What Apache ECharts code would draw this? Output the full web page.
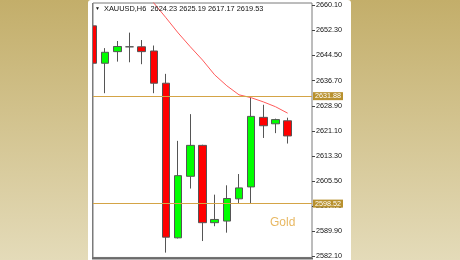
<!DOCTYPE html>
<html><head><meta charset="utf-8">
<script src="https://cdn.jsdelivr.net/npm/echarts@6/dist/echarts.min.js"></script>
<style>html,body{margin:0;padding:0;}#c{width:460px;height:260px;}</style>
</head><body><div id="c"></div>
<script>
// ---- data ----
const categories = ['1','2','3','4','5','6','7','8','9','10','11','12','13','14','15','16','17','18','19'];
const opens  = [2653.7, 2642.1, 2645.7, 2647.2, 2647.2, 2645.9, 2635.9, 2587.9, 2607.0, 2616.6, 2592.6, 2593.1, 2600.0, 2603.7, 2625.3, 2623.3, 2624.23];
const closes = [2642.1, 2645.5, 2647.3, 2647.2, 2645.7, 2635.9, 2588.1, 2607.2, 2616.6, 2592.6, 2593.6, 2600.1, 2603.4, 2625.6, 2622.7, 2624.6, 2619.53];
const lows   = [2636.0, 2632.8, 2642.6, 2642.4, 2641.8, 2632.8, 2583.3, 2587.7, 2603.2, 2586.9, 2591.5, 2589.5, 2598.7, 2598.5, 2618.9, 2620.4, 2617.17];
const highs  = [2657.1, 2646.8, 2649.0, 2651.6, 2649.3, 2647.6, 2638.8, 2618.0, 2626.3, 2616.8, 2601.3, 2604.2, 2607.7, 2631.8, 2629.2, 2624.9, 2625.19];
const maValues = [null, null, null, null, 2665.5, 2660.8, 2656.2, 2651.5, 2647.2, 2643.1, 2638.5, 2635.1, 2632.3, 2631.4, 2630.1, 2628.6, 2626.6];
const yTicks = [2582.10, 2589.90, 2597.70, 2605.50, 2613.30, 2621.10, 2628.90, 2636.70, 2644.50, 2652.30, 2660.10];
const levelLines = [2631.88, 2598.52];
const lastPrice = 2619.53;
const headerText = 'XAUUSD,H6  2624.23 2625.19 2617.17 2619.53';
const watermark = 'Gold';

// ---- build ----
const candleData = opens.map((o, i) => [o, closes[i], lows[i], highs[i]]);
const FONT = '"Liberation Sans", Arial, sans-serif';

const chart = echarts.init(document.getElementById('c'), null, {renderer: 'canvas'});
chart.setOption({
  animation: false,
  backgroundColor: {
    type: 'linear', x: 0, y: 0, x2: 0, y2: 1,
    colorStops: [{offset: 0, color: '#c3ae6a'}, {offset: 1, color: '#e4dbb9'}]
  },
  graphic: [
    {type: 'rect', z: -10, shape: {x: 88, y: 0, width: 263, height: 262, r: [3, 3, 0, 0]}, style: {fill: '#ffffff'}, silent: true},
    {type: 'rect', z: 100, shape: {x: 88, y: 3, width: 4.5, height: 256}, style: {fill: '#ffffff'}, silent: true},
    {type: 'line', z: 101, shape: {x1: 92.5, y1: 3, x2: 92.5, y2: 259}, style: {stroke: '#7a7a7a', lineWidth: 1}, silent: true},
    {type: 'line', z: 101, shape: {x1: 92, y1: 258.5, x2: 313, y2: 258.5}, style: {stroke: '#6a6a6a', lineWidth: 2}, silent: true},
    {type: 'text', z: 101, left: 95, top: 6, style: {text: '\u25BC', font: '5px ' + FONT, fill: '#111'}},
    {type: 'text', z: 101, left: 104, top: 5, style: {text: headerText, font: '7.4px ' + FONT, fill: '#111'}},
    {type: 'text', z: 101, left: 270, top: 217, style: {text: watermark, font: '12px ' + FONT, fill: '#e8b862'}}
  ],
  grid: {
    left: 93, top: 3, width: 219, height: 255,
    show: true, borderColor: '#7a7a7a', borderWidth: 1, backgroundColor: 'transparent'
  },
  xAxis: {
    type: 'category', data: categories, boundaryGap: false,
    axisLine: {show: false}, axisTick: {show: false}, axisLabel: {show: false}, splitLine: {show: false}
  },
  yAxis: {
    type: 'value', position: 'right', min: 2581.8, max: 2660.8, scale: true,
    axisLine: {show: false},
    splitLine: {show: false},
    axisTick: {show: true, length: 3, customValues: yTicks, lineStyle: {color: '#444'}},
    axisLabel: {
      show: true, customValues: yTicks, margin: 4,
      formatter: v => v.toFixed(2),
      fontSize: 7.2, fontFamily: FONT, color: '#111'
    }
  },
  series: [
    {
      type: 'candlestick', data: candleData, barWidth: 8, clip: true,
      itemStyle: {
        color: '#00ff00', color0: '#ff0000',
        borderColor: '#555555', borderColor0: '#555555', borderColorDoji: '#555555', borderWidth: 1
      },
      markLine: {
        silent: true, symbol: 'none', animation: false,
        data: [
          {yAxis: levelLines[0], lineStyle: {color: '#d4a446', width: 1, type: 'solid'},
           label: {show: true, position: 'end', distance: 1, formatter: levelLines[0].toFixed(2), backgroundColor: '#b8912e', color: '#ffffff', padding: [1, 2, 0, 2], fontSize: 7.2, fontFamily: FONT}},
          {yAxis: levelLines[1], lineStyle: {color: '#d4a446', width: 1, type: 'solid'},
           label: {show: true, position: 'end', distance: 1, formatter: levelLines[1].toFixed(2), backgroundColor: '#b8912e', color: '#ffffff', padding: [1, 2, 0, 2], fontSize: 7.2, fontFamily: FONT}},
          {yAxis: lastPrice, lineStyle: {opacity: 0, width: 0},
           label: {show: true, position: 'end', distance: 1, formatter: lastPrice.toFixed(2), backgroundColor: '#000000', color: '#ffffff', padding: [1, 2, 0, 2], fontSize: 7.2, fontFamily: FONT}}
        ]
      }
    },
    {
      type: 'line', data: maValues, clip: true, symbol: 'none', connectNulls: false,
      lineStyle: {color: '#ff5a5a', width: 1}
    }
  ]
});
</script>
</body></html>
